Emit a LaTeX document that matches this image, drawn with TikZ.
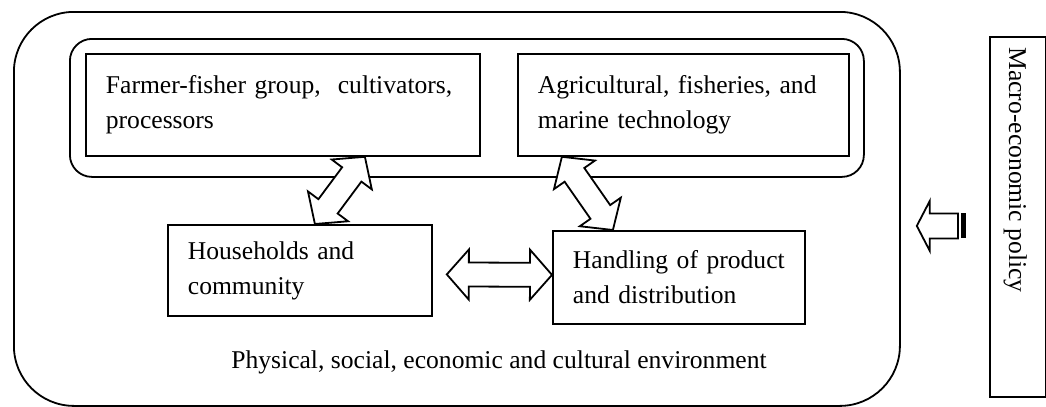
\documentclass[tikz,border=0pt]{standalone}
\usepackage{fontspec}
\setmainfont{Liberation Serif}
\usetikzlibrary{calc}

\tikzset{
  frame/.style={draw, line width=0.9pt, rectangle, anchor=north west, align=left,
    inner xsep=10pt, inner ysep=0pt},
  envbox/.style={draw, line width=0.9pt, rounded corners=30pt, anchor=north west, inner sep=0pt},
  twoway/.style={draw, line width=0.9pt, fill=white, to path={
    (\tikztostart)
    -- ($(\tikztostart)!11pt!(\tikztotarget)!12.5pt!90:(\tikztotarget)$)
    -- ($(\tikztostart)!11pt!(\tikztotarget)!6pt!90:(\tikztotarget)$)
    -- ($(\tikztotarget)!11pt!(\tikztostart)!6pt!90:(\tikztotarget)$)
    -- ($(\tikztotarget)!11pt!(\tikztostart)!12.5pt!90:(\tikztotarget)$)
    -- (\tikztotarget)
    -- ($(\tikztotarget)!11pt!(\tikztostart)!12.5pt!-90:(\tikztotarget)$)
    -- ($(\tikztotarget)!11pt!(\tikztostart)!6pt!-90:(\tikztotarget)$)
    -- ($(\tikztostart)!11pt!(\tikztotarget)!6pt!-90:(\tikztotarget)$)
    -- ($(\tikztostart)!11pt!(\tikztotarget)!12.5pt!-90:(\tikztotarget)$)
    -- cycle}},
  oneway/.style={draw, line width=0.9pt, fill=white, to path={
    (\tikztostart)
    -- ($(\tikztostart)!6.5pt!(\tikztotarget)!12.5pt!90:(\tikztotarget)$)
    -- ($(\tikztostart)!6.5pt!(\tikztotarget)!6.25pt!90:(\tikztotarget)$)
    -- ($(\tikztotarget)!6.25pt!-90:(\tikztostart)$)
    -- ($(\tikztotarget)!6.25pt!90:(\tikztostart)$)
    -- ($(\tikztostart)!6.5pt!(\tikztotarget)!6.25pt!-90:(\tikztotarget)$)
    -- ($(\tikztostart)!6.5pt!(\tikztotarget)!12.5pt!-90:(\tikztotarget)$)
    -- cycle}},
}

\begin{document}
\begin{tikzpicture}[x=0.5pt, y=-0.5pt, font=\fontsize{12.8}{17.5}\selectfont]
  \useasboundingbox (0,0) rectangle (1046,407);
  % environment and the two frames
  \node [envbox, minimum width=443pt, minimum height=197pt] (env) at (13,11) {};
  \node [envbox, rounded corners=11pt, minimum width=397pt, minimum height=69pt] (core) at (69,38) {};
  \node (envlabel) at (499,362) {Physical, social, economic and cultural environment};
  % boxes
  \node [frame, text width=177pt, minimum height=51pt] (farmer) at (85,53)
    {Farmer-fisher group,~ cultivators,\\ processors};
  \node [frame, text width=145.5pt, minimum height=51pt] (tech) at (517,53)
    {Agricultural, fisheries, and\\ marine technology};
  \node [frame, text width=112pt, minimum height=45.5pt] (house) at (167,224)
    {Households and\\ community};
  \node [frame, text width=106pt, minimum height=46.5pt] (handle) at (552,230)
    {Handling of product\\ and distribution};
  \node [draw, line width=0.9pt, anchor=north west, minimum width=28pt, minimum height=180pt,
    inner sep=0pt] (policy) at (989,36) {};
  \node [rotate=-90, anchor=base west, inner sep=0pt] (policytext) at (1009,47) {Macro-economic policy};
  % arrows
  \coordinate (fh) at ([xshift=41pt]farmer.south);
  \coordinate (hf) at ([xshift=7.5pt]house.north);
  \coordinate (th) at ([xshift=-60.75pt]tech.south);
  \coordinate (ht) at ([xshift=-33pt]handle.north);
  \coordinate (hh) at ([xshift=7pt, yshift=-2pt]house.east);
  \coordinate (hd) at ([yshift=1.25pt]handle.west);
  \coordinate (ptip) at ([xshift=8pt, yshift=-8.5pt]env.east);
  \coordinate (ptail) at ([xshift=-15.5pt, yshift=-4.5pt]policy.west);
  \draw [twoway] (fh) to (hf);
  \draw [twoway] (th) to (ht);
  \draw [twoway] (hh) to (hd);
  \draw [oneway] (ptip) to (ptail);
  \fill ($(ptail)+(3,-12.5)$) rectangle ($(ptail)+(8,12.5)$);
\end{tikzpicture}
\end{document}
